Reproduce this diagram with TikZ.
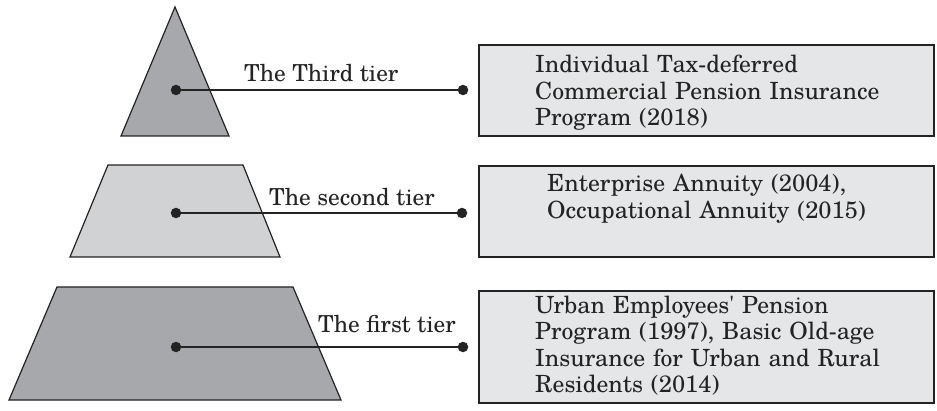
\documentclass[tikz,border=0pt]{standalone}
\usepackage{fontspec}
\setmainfont{TeX Gyre Schola}
\definecolor{darkfill}{HTML}{A7A8AB}
\definecolor{midfill}{HTML}{D1D2D4}
\definecolor{boxfill}{HTML}{E5E6E8}
\definecolor{ink}{HTML}{232323}
\tikzset{
  tiershape/.style={draw=ink, line width=1.2pt, line join=miter},
  infobox/.style={draw=ink, line width=1.2pt, fill=boxfill, rectangle, inner sep=0pt},
  boxtext/.style={anchor=base west, inner sep=0pt, text width=395pt, align=left,
    font=\fontsize{23.7}{26.5}\selectfont, text=ink},
  tierlabel/.style={anchor=base west, inner sep=0pt, font=\fontsize{23.4}{26.5}\selectfont, text=ink},
  dot/.style={circle, fill=ink, inner sep=0pt, minimum size=10.5pt},
  conn/.style={draw=ink, line width=1.2pt}
}
\begin{document}
\begin{tikzpicture}[x=1pt,y=1pt]
\useasboundingbox (0,0) rectangle (937,410);
% shapes
\filldraw[tiershape, fill=darkfill] (175,403) -- (229,274) -- (121,274) -- cycle;
\filldraw[tiershape, fill=midfill] (108,245) -- (243,245) -- (280,153) -- (70,153) -- cycle;
\filldraw[tiershape, fill=darkfill] (57,123) -- (293,123) -- (341,10) -- (9,10) -- cycle;
% boxes
\node[infobox, minimum width=455pt, minimum height=91pt] (b3) at (706.5,319.5) {};
\node[infobox, minimum width=455pt, minimum height=91pt] (b2) at (706.5,198.5) {};
\node[infobox, minimum width=455pt, minimum height=112pt] (b1) at (706.5,63) {};
% box texts
\node[boxtext] (t3) at (535,337) {Individual Tax-deferred\\Commercial Pension Insurance\\Program (2018)};
\node[boxtext] (t2) at (547,218) {Enterprise Annuity (2004),\\Occupational Annuity (2015)};
\node[boxtext] (t1) at (535,97) {Urban Employees\textquotesingle\ Pension\\Program (1997), Basic Old-age\\Insurance for Urban and Rural\\Residents (2014)};
% dots and connectors
\node[dot] (d3a) at (176,320) {};
\node[dot] (d3b) at (463,320) {};
\node[dot] (d2a) at (176,197) {};
\node[dot] (d2b) at (462,197) {};
\node[dot] (d1a) at (176,63) {};
\node[dot] (d1b) at (463,63) {};
\draw[conn] (d3a.center) -- (d3b.center);
\draw[conn] (d2a.center) -- (d2b.center);
\draw[conn] (d1a.center) -- (d1b.center);
% labels
\node[tierlabel] (l3) at (244,328) {The Third tier};
\node[tierlabel] (l2) at (269,204) {The second tier};
\node[tierlabel] (l1) at (318,78) {The first tier};
\end{tikzpicture}
\end{document}
